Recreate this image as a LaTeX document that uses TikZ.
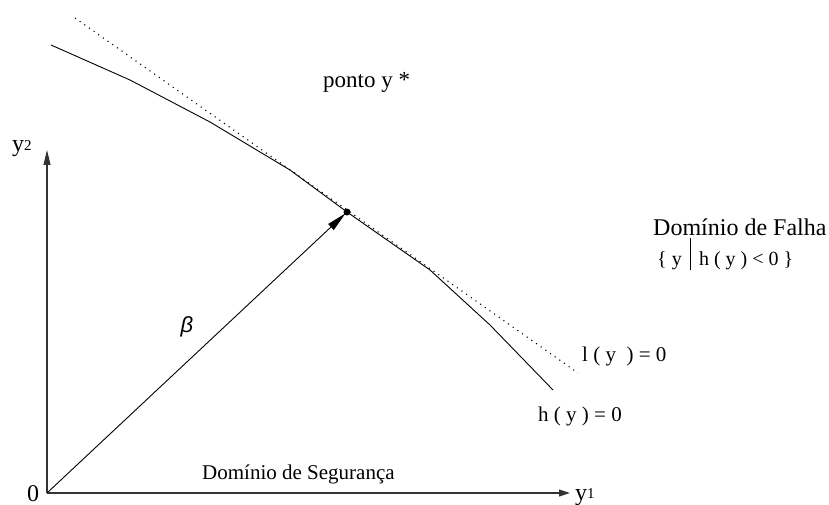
\documentclass[tikz,border=0pt]{standalone}
\usepackage{fontspec}
\setmainfont{Liberation Serif}
\newfontfamily\betafont{Liberation Sans}
\usetikzlibrary{arrows.meta}
\begin{document}
\begin{tikzpicture}[x=1pt,y=-1pt,
  lbl/.style={inner sep=0pt,anchor=base west,font=\fontsize{23}{26}\selectfont},
  mid/.style={inner sep=0pt,anchor=base west,font=\fontsize{21}{24}\selectfont},
  small/.style={inner sep=0pt,anchor=base west,font=\fontsize{20}{22}\selectfont},
  axis/.style={line width=1.1pt,draw=black!80},
  curveh/.style={line width=0.9pt},
  dotline/.style={line width=1.1pt,dash pattern=on 1.1pt off 4.6pt},
  ptdot/.style={circle,fill=black,inner sep=0pt,minimum size=7pt}]
\useasboundingbox (0,0) rectangle (829,505);
\coordinate (O) at (47,493);
\coordinate (Y2) at (47,150);
\coordinate (Y1) at (570,493);
\coordinate (L1) at (75,18);
\coordinate (L2) at (578,373);
\node[ptdot] (P) at (347,212) {};
% axes
\draw[axis,-{Triangle[length=15pt,width=7pt]}] (O) -- (Y2);
\draw[axis,-{Triangle[length=11pt,width=7pt]}] (O) -- (Y1);
% tangent line
\draw[dotline] (L1) -- (L2);
% limit state curve
\draw[curveh] (51,45) -- (130,80) -- (210,122) -- (290,170) -- (P.center) -- (430,270) -- (490,325) -- (553,390);
% beta vector
\draw[line width=0.9pt,-{Triangle[length=20pt,width=8pt]},shorten >=2pt] (O) -- (P.center);
% labels
\node[lbl] (ponto) at (323,88) {ponto y *};
\node[lbl,font=\fontsize{24}{26}\selectfont] (falha) at (653,235) {Domínio de Falha};
\node[small] (set) at (657,265) {\{ y\ \,\rule[-5pt]{0.6pt}{32pt}\ \,h ( y ) < 0 \}};
\node[mid] (labl) at (582,361) {l ( y \ ) = 0};
\node[mid] (labh) at (538,421) {h ( y ) = 0};
\node[mid] (seg) at (202,479) {Domínio de Segurança};
\node[lbl,font=\fontsize{24}{26}\selectfont] (zero) at (27,501) {0};
\node[lbl,font=\fontsize{24}{26}\selectfont] (y2) at (12,152) {y\raisebox{1.5pt}{\fontsize{15}{15}\selectfont 2}};
\node[lbl,font=\fontsize{24}{26}\selectfont] (y1) at (575,500) {y\raisebox{1.5pt}{\fontsize{15}{15}\selectfont 1}};
\node[inner sep=0pt,anchor=center,font=\fontsize{22}{24}\selectfont\betafont\itshape] (beta) at (187,327) {β};
\end{tikzpicture}
\end{document}
